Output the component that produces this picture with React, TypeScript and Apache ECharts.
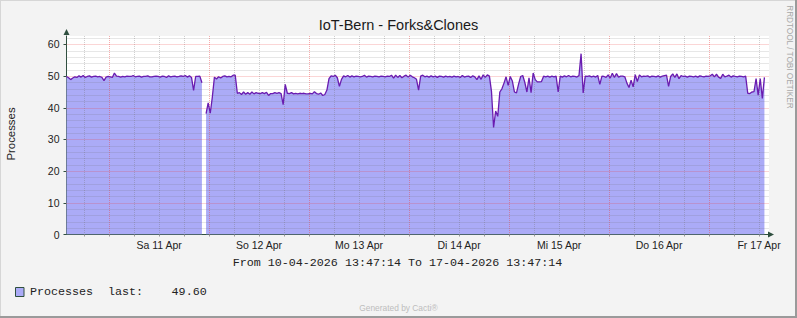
import React, { useEffect, useRef } from "react";
import * as echarts from "echarts";

// ---------- data ----------
const TITLE = "IoT-Bern - Forks&Clones";
const Y_AXIS_NAME = "Processes";
const RANGE_TEXT = "From 10-04-2026 13:47:14 To 17-04-2026 13:47:14";
const LEGEND_NAME = "Processes";
const LEGEND_LAST = "last:";
const FOOTER = "Generated by Cacti®";
const WATERMARK = "RRDTOOL / TOBI OETIKER";

// hours since 10 Apr 2026 00:00
const START_HOUR = 13 + 47 / 60 + 14 / 3600;
const SPAN_HOURS = 168;
const STEP_HOURS = 0.5;

const dayLabels = ["Sa 11 Apr", "So 12 Apr", "Mo 13 Apr", "Di 14 Apr", "Mi 15 Apr", "Do 16 Apr", "Fr 17 Apr"];
const dayLabelHours = [36, 60, 84, 108, 132, 156, 180];
const yTicks = [0, 10, 20, 30, 40, 50, 60];
const Y_MAX = 62.68;

// one sample per 30 minutes, starting at 10-04-2026 13:47:14
const processes: (number | null)[] = [
  49.9, 49.5, 48.9, 49.4, 49.8, 49.6, 50.1, 49.7, 50.2, 49.6, 49.9, 50.1,
  49.7, 49.9, 50.0, 49.8, 49.9, 49.6, 48.6, 49.7, 49.9, 49.8, 49.6, 51.0,
  50.0, 49.9, 49.7, 49.9, 49.8, 50.0, 49.9, 49.9, 50.2, 49.8, 49.9, 50.0,
  49.7, 49.9, 49.9, 50.1, 49.8, 49.8, 49.9, 50.0, 49.9, 49.7, 50.0, 49.9,
  49.6, 50.1, 49.8, 49.9, 50.0, 49.8, 49.9, 50.1, 49.9, 50.2, 49.7, 50.1,
  49.6, 45.5, 49.9, 49.9, 50.0, 47.9, null, 38.2, 41.6, 38.3, 43.4, 49.7,
  49.1, 49.8, 49.4, 49.9, 50.1, 49.8, 49.9, 49.8, 50.3, 50.3, 44.6, 44.8,
  44.2, 45.0, 44.3, 44.8, 44.3, 45.0, 44.4, 44.8, 44.6, 44.5, 44.8, 44.5,
  44.9, 43.9, 44.5, 44.5, 44.8, 44.6, 44.8, 44.5, 41.0, 47.4, 44.6, 44.5,
  44.8, 44.4, 44.6, 44.4, 44.6, 44.5, 44.6, 44.4, 44.4, 44.6, 44.4, 45.1,
  44.5, 44.3, 44.7, 43.9, 44.2, 45.6, 49.2, 50.1, 49.9, 50.3, 49.5, 46.8,
  49.0, 50.1, 49.8, 50.2, 49.7, 50.1, 49.8, 50.0, 49.9, 49.8, 49.9, 50.3,
  49.7, 50.0, 49.9, 49.8, 50.0, 49.9, 49.8, 50.0, 49.9, 49.8, 50.0, 49.9,
  50.3, 49.4, 50.3, 49.6, 50.2, 49.5, 50.0, 50.3, 49.7, 50.3, 49.8, 49.5,
  49.0, 45.6, 50.0, 50.3, 49.8, 50.0, 49.7, 50.1, 49.8, 50.0, 49.6, 50.0,
  49.9, 49.7, 50.0, 49.8, 49.9, 49.7, 50.0, 49.8, 49.9, 49.6, 50.2, 49.7,
  49.9, 50.0, 49.6, 50.1, 49.8, 48.9, 50.1, 49.0, 50.4, 49.6, 50.4, 50.0,
  45.1, 33.8, 39.0, 37.3, 45.0, 46.0, 47.8, 49.8, 47.1, 49.9, 48.5, 45.0,
  44.7, 47.5, 49.9, 50.2, 48.0, 45.0, 49.5, 44.8, 51.0, 48.9, 48.2, 48.2,
  48.3, 50.0, 49.8, 50.0, 49.7, 50.0, 49.8, 50.0, 45.0, 50.0, 49.7, 50.1,
  49.8, 50.2, 49.8, 50.0, 49.9, 49.7, 50.2, 57.1, 44.7, 50.0, 49.9, 50.1,
  49.8, 50.0, 49.7, 50.2, 47.4, 50.0, 49.9, 49.6, 50.4, 49.4, 50.9, 49.6,
  50.8, 49.7, 50.0, 50.0, 49.8, 47.8, 46.4, 48.7, 46.6, 50.5, 48.3, 50.4,
  49.8, 50.0, 49.9, 50.1, 49.7, 50.0, 49.9, 49.8, 50.1, 49.7, 50.0, 50.2,
  50.3, 46.8, 49.9, 50.7, 49.6, 50.7, 49.2, 50.2, 49.9, 50.0, 49.7, 50.0,
  49.9, 49.8, 50.0, 49.7, 50.1, 49.9, 49.8, 50.0, 49.9, 50.1, 50.6, 49.8,
  50.6, 49.7, 49.3, 50.6, 49.8, 50.0, 50.3, 49.7, 50.1, 49.9, 49.8, 50.0,
  49.9, 49.8, 50.0, 44.6, 44.5, 45.0, 45.1, 49.2, 44.0, 49.2, 43.0, 49.6,
];

// ---------- styles ----------
const AREA_COLOR = "#ABABF7";
const LINE_COLOR = "#6A1CB0";
const AXIS_COLOR = "#2F4F3F";
const SANS = "'Liberation Sans', Arial, sans-serif";
const MONO = "'Liberation Mono', 'DejaVu Sans Mono', monospace";
const MINOR_GRID = "rgba(110,110,110,0.32)";
const MAJOR_GRID = "rgba(235,60,60,0.42)";

export default function App() {
  const ref = useRef<HTMLDivElement>(null);

  useEffect(() => {
    if (!ref.current) return;
    const chart = echarts.init(ref.current, null, { renderer: "svg" });

    const endHour = START_HOUR + SPAN_HOURS;
    const xMax = endHour + 0.6;
    const seriesData = processes.map((v, i) => [START_HOUR + i * STEP_HOURS, v]);
    const lastValue = [...processes].reverse().find((v) => v != null) as number;

    const sixHourMarks: number[] = [];
    for (let h = Math.ceil(START_HOUR / 6) * 6; h <= endHour; h += 6) sixHourMarks.push(h);
    const twoUnitMarks: number[] = [];
    for (let y = 2; y < Y_MAX; y += 2) twoUnitMarks.push(y);

    const staticGraphics: any[] = [
      { type: "line", shape: { x1: 0, y1: 0.5, x2: 797, y2: 0.5 }, style: { stroke: "#D6D6D6", lineWidth: 1 } },
      { type: "line", shape: { x1: 0.5, y1: 0, x2: 0.5, y2: 318 }, style: { stroke: "#D6D6D6", lineWidth: 1 } },
      { type: "line", shape: { x1: 0, y1: 317, x2: 797, y2: 317 }, style: { stroke: "#9A9A9A", lineWidth: 2 } },
      { type: "line", shape: { x1: 796, y1: 0, x2: 796, y2: 318 }, style: { stroke: "#9A9A9A", lineWidth: 2 } },
      {
        type: "text",
        x: 11,
        y: 134,
        rotation: Math.PI / 2,
        style: { text: Y_AXIS_NAME, fontFamily: SANS, fontSize: 11.4, fill: "#222222", align: "center", verticalAlign: "middle" },
      },
      {
        type: "text",
        x: 789,
        y: 57,
        rotation: -Math.PI / 2,
        style: { text: WATERMARK, fontFamily: SANS, fontSize: 8.2, fill: "#A8A8A8", align: "center", verticalAlign: "middle" },
      },
      {
        type: "text",
        x: 397.5,
        y: 263,
        style: { text: RANGE_TEXT, fontFamily: MONO, fontSize: 11.7, fill: "#222222", align: "center", verticalAlign: "middle" },
      },
      {
        type: "rect",
        shape: { x: 15.5, y: 287.5, width: 8.5, height: 9 },
        style: { fill: AREA_COLOR, stroke: "#2F4F3F", lineWidth: 1 },
      },
      {
        type: "text",
        x: 30,
        y: 292,
        style: { text: LEGEND_NAME, fontFamily: MONO, fontSize: 11.7, fill: "#222222", verticalAlign: "middle" },
      },
      {
        type: "text",
        x: 30 + 11 * 7.08,
        y: 292,
        style: { text: LEGEND_LAST, fontFamily: MONO, fontSize: 11.7, fill: "#222222", verticalAlign: "middle" },
      },
      {
        type: "text",
        x: 30 + 20 * 7.08,
        y: 292,
        style: { text: lastValue.toFixed(2), fontFamily: MONO, fontSize: 11.7, fill: "#222222", verticalAlign: "middle" },
      },
      {
        type: "text",
        x: 398.4,
        y: 308,
        style: { text: FOOTER, fontFamily: SANS, fontSize: 8.4, fill: "#BDBDBD", align: "center", verticalAlign: "middle" },
      },
    ];

    const option: any = {
      animation: false,
      backgroundColor: "#F3F3F3",
      title: {
        text: TITLE,
        left: "center",
        top: 12,
        textStyle: { fontFamily: SANS, fontSize: 14.5, fontWeight: "normal", color: "#1a1a1a" },
      },
      grid: {
        left: 66.5,
        top: 36,
        width: 702.5,
        height: 198.5,
        show: true,
        backgroundColor: "#FFFFFF",
        borderWidth: 0,
        containLabel: false,
      },
      xAxis: {
        type: "value",
        min: START_HOUR,
        max: xMax,
        splitLine: { show: false },
        axisLine: {
          show: true,
          onZero: false,
          lineStyle: { color: AXIS_COLOR, width: 1 },
          symbol: ["none", "triangle"],
          symbolSize: [6, 6],
          symbolOffset: [0, 2],
        },
        axisTick: { show: true, customValues: sixHourMarks, length: 2, lineStyle: { color: "#999999" } },
        axisLabel: {
          customValues: dayLabelHours,
          formatter: (v: number) => {
            const k = dayLabelHours.findIndex((h) => Math.abs(h - v) < 1e-6);
            return k >= 0 ? dayLabels[k] : "";
          },
          margin: 5,
          fontFamily: SANS,
          fontSize: 10.5,
          color: "#222222",
        },
      },
      yAxis: {
        type: "value",
        min: 0,
        max: Y_MAX,
        interval: 10,
        splitLine: { show: false },
        axisLine: {
          show: true,
          onZero: false,
          lineStyle: { color: AXIS_COLOR, width: 1 },
          symbol: ["none", "triangle"],
          symbolSize: [6, 6],
          symbolOffset: [0, 4],
        },
        axisTick: { show: true, customValues: yTicks, length: 3, lineStyle: { color: AXIS_COLOR } },
        axisLabel: { customValues: yTicks, margin: 7, fontFamily: SANS, fontSize: 10.5, color: "#222222" },
      },
      series: [
        {
          name: "area",
          type: "line",
          data: seriesData,
          symbol: "none",
          showSymbol: false,
          connectNulls: false,
          lineStyle: { width: 0, opacity: 0 },
          areaStyle: { color: AREA_COLOR, opacity: 1 },
          z: 2,
          silent: true,
        },
        {
          name: LEGEND_NAME,
          type: "line",
          data: seriesData,
          symbol: "none",
          showSymbol: false,
          connectNulls: false,
          lineStyle: { color: LINE_COLOR, width: 1.3 },
          z: 10,
          silent: true,
        },
      ],
      graphic: staticGraphics,
    };

    chart.setOption(option);

    // grid lines placed through the chart's own scales
    const gridLines: any[] = [];
    const top = chart.convertToPixel({ gridIndex: 0 }, [START_HOUR, Y_MAX]) as number[];
    const bottom = chart.convertToPixel({ gridIndex: 0 }, [xMax, 0]) as number[];
    sixHourMarks.forEach((h) => {
      const p = chart.convertToPixel({ gridIndex: 0 }, [h, 0]) as number[];
      const x = Math.round(p[0]) + 0.5;
      gridLines.push({
        type: "line",
        z: 5,
        silent: true,
        shape: { x1: x, y1: top[1], x2: x, y2: bottom[1] },
        style: { stroke: h % 24 === 0 ? MAJOR_GRID : MINOR_GRID, lineWidth: 1, lineDash: [1, 1] },
      });
    });
    twoUnitMarks.forEach((v) => {
      const p = chart.convertToPixel({ gridIndex: 0 }, [START_HOUR, v]) as number[];
      const y = Math.round(p[1]) + 0.5;
      gridLines.push({
        type: "line",
        z: 5,
        silent: true,
        shape: { x1: top[0], y1: y, x2: bottom[0], y2: y },
        style: { stroke: v % 10 === 0 ? MAJOR_GRID : MINOR_GRID, lineWidth: 1, lineDash: [1, 1] },
      });
    });
    chart.setOption({ graphic: [...staticGraphics, ...gridLines] });

    return () => chart.dispose();
  }, []);

  return <div ref={ref} style={{ position: "fixed", left: 0, top: 0, width: 797, height: 318 }} />;
}
